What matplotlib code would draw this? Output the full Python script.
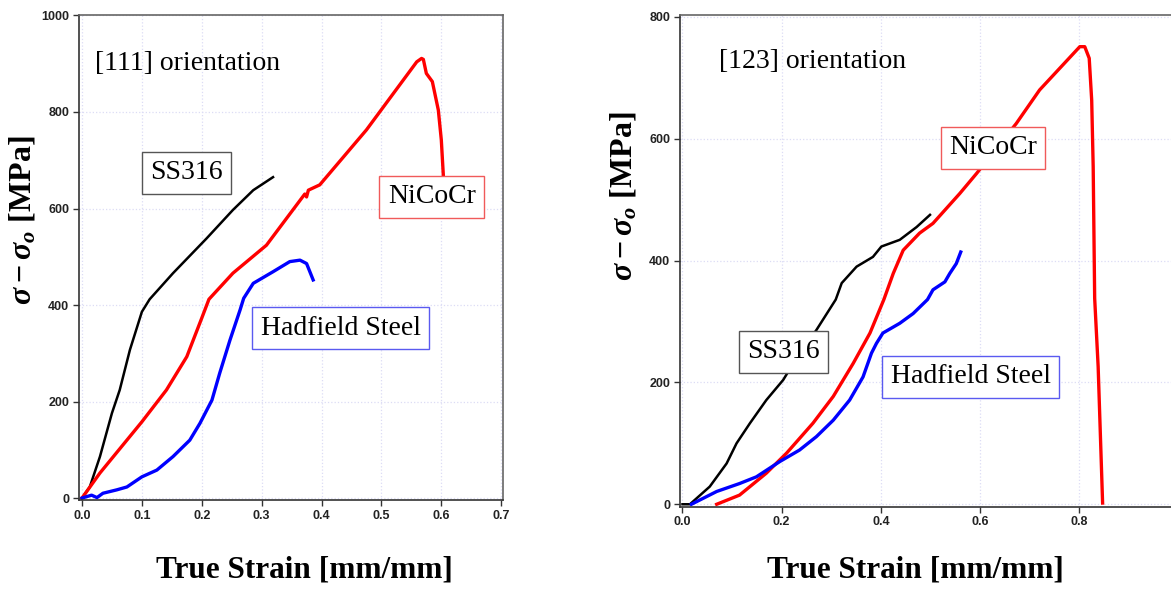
import matplotlib
matplotlib.use("Agg")
import matplotlib.pyplot as plt

plt.rcParams['mathtext.fontset'] = 'custom'
plt.rcParams['mathtext.rm'] = 'Liberation Serif:bold'
plt.rcParams['mathtext.it'] = 'Liberation Serif:italic:bold'
plt.rcParams['mathtext.bf'] = 'Liberation Serif:bold'

# ---- [111] orientation data ----
ss316_111_x = [0.0, 0.013, 0.03, 0.05, 0.063, 0.08, 0.1, 0.113, 0.152, 0.208, 0.252, 0.286, 0.319]
ss316_111_y = [0, 23, 86, 176, 224, 307, 386, 412, 466, 538, 597, 638, 665]

nicocr_111_x = [0.0, 0.03, 0.1, 0.141, 0.175, 0.2, 0.212, 0.252, 0.308, 0.372, 0.375, 0.378,
                0.397, 0.475, 0.559, 0.567, 0.57, 0.575, 0.585, 0.595, 0.6, 0.604]
nicocr_111_y = [0, 52, 158, 224, 293, 373, 412, 466, 524, 630, 624, 638,
                649, 763, 904, 911, 909, 880, 863, 804, 742, 655]

hadfield_111_x = [0.0, 0.016, 0.025, 0.035, 0.058, 0.075, 0.1, 0.125, 0.152, 0.18, 0.197, 0.217,
                  0.23, 0.247, 0.264, 0.27, 0.286, 0.319, 0.347, 0.364, 0.375, 0.386]
hadfield_111_y = [0, 6, 1, 10, 17, 23, 44, 58, 86, 120, 155, 203,
                  259, 327, 390, 414, 445, 469, 490, 493, 486, 452]

# ---- [123] orientation data ----
ss316_123_x = [0.0, 0.015, 0.055, 0.089, 0.109, 0.136, 0.169, 0.203, 0.236, 0.27, 0.309, 0.321,
               0.351, 0.384, 0.401, 0.438, 0.472, 0.499]
ss316_123_y = [0, 0, 29, 67, 100, 133, 171, 204, 248, 286, 336, 363,
               390, 406, 423, 434, 455, 475]

nicocr_123_x = [0.069, 0.115, 0.169, 0.21, 0.263, 0.304, 0.344, 0.378, 0.406, 0.425, 0.445, 0.478,
                0.505, 0.559, 0.593, 0.673, 0.72, 0.801, 0.811, 0.82, 0.825, 0.828, 0.831, 0.838, 0.847]
nicocr_123_y = [0, 15, 51, 84, 133, 177, 231, 281, 336, 379, 417, 445,
                461, 510, 543, 625, 680, 751, 751, 732, 663, 554, 338, 226, 2]

hadfield_123_x = [0.018, 0.069, 0.115, 0.149, 0.196, 0.236, 0.27, 0.304, 0.337, 0.364, 0.381, 0.391,
                  0.404, 0.438, 0.465, 0.494, 0.505, 0.529, 0.539, 0.552, 0.561]
hadfield_123_y = [0, 21, 34, 45, 70, 89, 111, 138, 171, 209, 248, 264,
                  281, 297, 313, 336, 352, 365, 379, 395, 414]

W, H = 1171, 591
fig = plt.figure(figsize=(W / 100, H / 100), dpi=100)
fig.patch.set_facecolor('white')

ax1 = fig.add_axes([79 / W, 1 - 500 / H, 424 / W, 485 / H])
ax2 = fig.add_axes([680 / W, 1 - 506.7 / H, 498.5 / W, 491.7 / H])

xlabel_font = dict(family='Liberation Serif', weight='bold', size=22.5)
ylabel_font = dict(family='Liberation Serif', weight='bold', size=23)
box_font = dict(family='Liberation Serif', size=20)
ylabel_text = r'$\sigma - \sigma_o$ [MPa]'


def style_axes(ax, xticks, yticks):
    ax.set_xticks(xticks)
    ax.set_yticks(yticks)
    ax.set_xticklabels([f"{t:.1f}" for t in xticks])
    ax.grid(True, color='#dcdcf5', linestyle=':', linewidth=0.9)
    ax.set_axisbelow(True)
    for side in ['left', 'bottom']:
        ax.spines[side].set_color('#333333')
        ax.spines[side].set_linewidth(1.2)
    for side in ['top', 'right']:
        ax.spines[side].set_color('#666666')
        ax.spines[side].set_linewidth(1.2)
    ax.tick_params(direction='out', length=4, width=1, color='#333333', pad=3)
    for lab in ax.get_xticklabels() + ax.get_yticklabels():
        lab.set_family('Liberation Sans')
        lab.set_weight('bold')
        lab.set_size(9)
        lab.set_color('#222222')


def boxed(ax, x, y, s, edge):
    ax.text(x, y, s, ha='center', va='center', fontdict=box_font,
            bbox=dict(boxstyle='square,pad=0.3', facecolor='white', edgecolor=edge, linewidth=1.0))


# left panel
ax1.plot(ss316_111_x, ss316_111_y, color='black', lw=1.8)
ax1.plot(nicocr_111_x, nicocr_111_y, color='#ff0000', lw=2.4)
ax1.plot(hadfield_111_x, hadfield_111_y, color='#0000ff', lw=2.4)
ax1.set_xlim(-0.005, 0.703)
ax1.set_ylim(-4, 1001)
style_axes(ax1, [0.0, 0.1, 0.2, 0.3, 0.4, 0.5, 0.6, 0.7], [0, 200, 400, 600, 800, 1000])
ax1.text(0.022, 901, '[111] orientation', ha='left', va='center', fontdict=box_font)
boxed(ax1, 0.175, 674, 'SS316', '#555555')
boxed(ax1, 0.584, 624, 'NiCoCr', '#f05a5a')
boxed(ax1, 0.432, 352, 'Hadfield Steel', '#5a5af0')
ax1.set_xlabel('True Strain [mm/mm]', fontdict=xlabel_font)
ax1.set_ylabel(ylabel_text, fontdict=ylabel_font)
ax1.xaxis.set_label_coords(0.531, -0.115)
ax1.yaxis.set_label_coords(-0.097, 0.577)

# right panel (its right edge runs past the figure, as in the source image)
ax2.plot(ss316_123_x, ss316_123_y, color='black', lw=1.8)
ax2.plot(nicocr_123_x, nicocr_123_y, color='#ff0000', lw=2.4)
ax2.plot(hadfield_123_x, hadfield_123_y, color='#0000ff', lw=2.4)
ax2.set_xlim(-0.005, 1.0)
ax2.set_ylim(-4, 803)
style_axes(ax2, [0.0, 0.2, 0.4, 0.6, 0.8], [0, 200, 400, 600, 800])
ax2.text(0.073, 727, '[123] orientation', ha='left', va='center', fontdict=box_font)
boxed(ax2, 0.626, 585, 'NiCoCr', '#f05a5a')
boxed(ax2, 0.204, 250, 'SS316', '#555555')
boxed(ax2, 0.581, 209, 'Hadfield Steel', '#5a5af0')
ax2.set_xlabel('True Strain [mm/mm]', fontdict=xlabel_font)
ax2.set_ylabel(ylabel_text, fontdict=ylabel_font)
ax2.xaxis.set_label_coords(0.473, -0.099)
ax2.yaxis.set_label_coords(-0.084, 0.632)

fig.savefig('out.png', dpi=100, facecolor='white')
